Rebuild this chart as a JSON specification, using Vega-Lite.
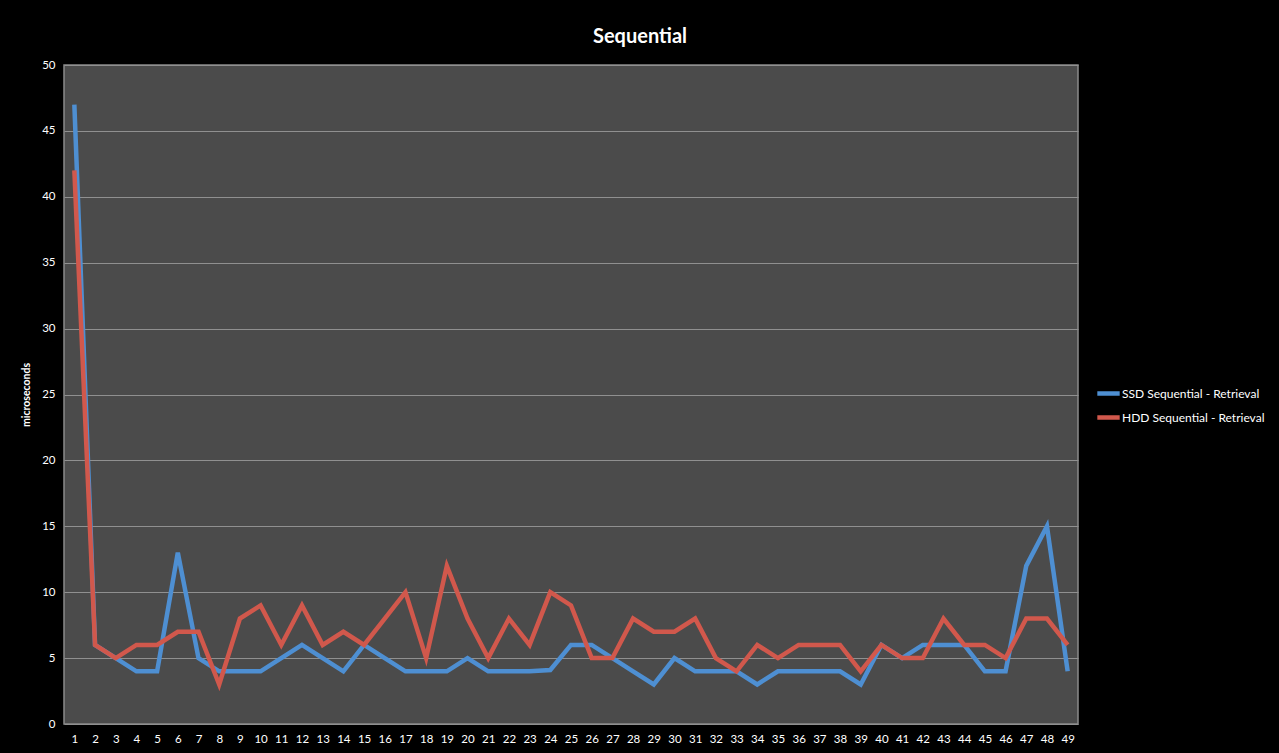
{
  "$schema": "https://vega.github.io/schema/vega-lite/v6.json",
  "autosize": {"type": "none"},
  "width": 1014,
  "height": 659,
  "padding": {"left": 64, "top": 65, "right": 201, "bottom": 29},
  "background": "#000000",
  "title": {
    "text": "Sequential",
    "color": "white",
    "font": "Lato",
    "fontSize": 20,
    "fontWeight": "bold",
    "anchor": "middle",
    "dx": 69,
    "offset": 12
  },
  "config": {
    "view": {"stroke": "#8a8a8a", "strokeWidth": 1.5, "fill": "#4b4b4b"},
    "axis": {
      "labelColor": "white",
      "labelFont": "Lato",
      "labelFontSize": 11.5,
      "titleColor": "white",
      "titleFont": "Lato",
      "domain": false,
      "ticks": false
    },
    "legend": {
      "labelColor": "white",
      "labelFont": "Lato",
      "labelFontSize": 12
    }
  },
  "data": {
    "values": [
      {"n": 1, "series": "SSD Sequential - Retrieval", "value": 47},
      {"n": 2, "series": "SSD Sequential - Retrieval", "value": 6},
      {"n": 3, "series": "SSD Sequential - Retrieval", "value": 5},
      {"n": 4, "series": "SSD Sequential - Retrieval", "value": 4},
      {"n": 5, "series": "SSD Sequential - Retrieval", "value": 4},
      {"n": 6, "series": "SSD Sequential - Retrieval", "value": 13},
      {"n": 7, "series": "SSD Sequential - Retrieval", "value": 5},
      {"n": 8, "series": "SSD Sequential - Retrieval", "value": 4},
      {"n": 9, "series": "SSD Sequential - Retrieval", "value": 4},
      {"n": 10, "series": "SSD Sequential - Retrieval", "value": 4},
      {"n": 11, "series": "SSD Sequential - Retrieval", "value": 5},
      {"n": 12, "series": "SSD Sequential - Retrieval", "value": 6},
      {"n": 13, "series": "SSD Sequential - Retrieval", "value": 5},
      {"n": 14, "series": "SSD Sequential - Retrieval", "value": 4},
      {"n": 15, "series": "SSD Sequential - Retrieval", "value": 6},
      {"n": 16, "series": "SSD Sequential - Retrieval", "value": 5},
      {"n": 17, "series": "SSD Sequential - Retrieval", "value": 4},
      {"n": 18, "series": "SSD Sequential - Retrieval", "value": 4},
      {"n": 19, "series": "SSD Sequential - Retrieval", "value": 4},
      {"n": 20, "series": "SSD Sequential - Retrieval", "value": 5},
      {"n": 21, "series": "SSD Sequential - Retrieval", "value": 4},
      {"n": 22, "series": "SSD Sequential - Retrieval", "value": 4},
      {"n": 23, "series": "SSD Sequential - Retrieval", "value": 4},
      {"n": 24, "series": "SSD Sequential - Retrieval", "value": 4.1},
      {"n": 25, "series": "SSD Sequential - Retrieval", "value": 6},
      {"n": 26, "series": "SSD Sequential - Retrieval", "value": 6},
      {"n": 27, "series": "SSD Sequential - Retrieval", "value": 5},
      {"n": 28, "series": "SSD Sequential - Retrieval", "value": 4},
      {"n": 29, "series": "SSD Sequential - Retrieval", "value": 3},
      {"n": 30, "series": "SSD Sequential - Retrieval", "value": 5},
      {"n": 31, "series": "SSD Sequential - Retrieval", "value": 4},
      {"n": 32, "series": "SSD Sequential - Retrieval", "value": 4},
      {"n": 33, "series": "SSD Sequential - Retrieval", "value": 4},
      {"n": 34, "series": "SSD Sequential - Retrieval", "value": 3},
      {"n": 35, "series": "SSD Sequential - Retrieval", "value": 4},
      {"n": 36, "series": "SSD Sequential - Retrieval", "value": 4},
      {"n": 37, "series": "SSD Sequential - Retrieval", "value": 4},
      {"n": 38, "series": "SSD Sequential - Retrieval", "value": 4},
      {"n": 39, "series": "SSD Sequential - Retrieval", "value": 3},
      {"n": 40, "series": "SSD Sequential - Retrieval", "value": 6},
      {"n": 41, "series": "SSD Sequential - Retrieval", "value": 5},
      {"n": 42, "series": "SSD Sequential - Retrieval", "value": 6},
      {"n": 43, "series": "SSD Sequential - Retrieval", "value": 6},
      {"n": 44, "series": "SSD Sequential - Retrieval", "value": 6},
      {"n": 45, "series": "SSD Sequential - Retrieval", "value": 4},
      {"n": 46, "series": "SSD Sequential - Retrieval", "value": 4},
      {"n": 47, "series": "SSD Sequential - Retrieval", "value": 12},
      {"n": 48, "series": "SSD Sequential - Retrieval", "value": 15},
      {"n": 49, "series": "SSD Sequential - Retrieval", "value": 4},
      {"n": 1, "series": "HDD Sequential - Retrieval", "value": 42},
      {"n": 2, "series": "HDD Sequential - Retrieval", "value": 6},
      {"n": 3, "series": "HDD Sequential - Retrieval", "value": 5},
      {"n": 4, "series": "HDD Sequential - Retrieval", "value": 6},
      {"n": 5, "series": "HDD Sequential - Retrieval", "value": 6},
      {"n": 6, "series": "HDD Sequential - Retrieval", "value": 7},
      {"n": 7, "series": "HDD Sequential - Retrieval", "value": 7},
      {"n": 8, "series": "HDD Sequential - Retrieval", "value": 3},
      {"n": 9, "series": "HDD Sequential - Retrieval", "value": 8},
      {"n": 10, "series": "HDD Sequential - Retrieval", "value": 9},
      {"n": 11, "series": "HDD Sequential - Retrieval", "value": 6},
      {"n": 12, "series": "HDD Sequential - Retrieval", "value": 9},
      {"n": 13, "series": "HDD Sequential - Retrieval", "value": 6},
      {"n": 14, "series": "HDD Sequential - Retrieval", "value": 7},
      {"n": 15, "series": "HDD Sequential - Retrieval", "value": 6},
      {"n": 16, "series": "HDD Sequential - Retrieval", "value": 8},
      {"n": 17, "series": "HDD Sequential - Retrieval", "value": 10},
      {"n": 18, "series": "HDD Sequential - Retrieval", "value": 5},
      {"n": 19, "series": "HDD Sequential - Retrieval", "value": 12},
      {"n": 20, "series": "HDD Sequential - Retrieval", "value": 8},
      {"n": 21, "series": "HDD Sequential - Retrieval", "value": 5},
      {"n": 22, "series": "HDD Sequential - Retrieval", "value": 8},
      {"n": 23, "series": "HDD Sequential - Retrieval", "value": 6},
      {"n": 24, "series": "HDD Sequential - Retrieval", "value": 10},
      {"n": 25, "series": "HDD Sequential - Retrieval", "value": 9},
      {"n": 26, "series": "HDD Sequential - Retrieval", "value": 5},
      {"n": 27, "series": "HDD Sequential - Retrieval", "value": 5},
      {"n": 28, "series": "HDD Sequential - Retrieval", "value": 8},
      {"n": 29, "series": "HDD Sequential - Retrieval", "value": 7},
      {"n": 30, "series": "HDD Sequential - Retrieval", "value": 7},
      {"n": 31, "series": "HDD Sequential - Retrieval", "value": 8},
      {"n": 32, "series": "HDD Sequential - Retrieval", "value": 5},
      {"n": 33, "series": "HDD Sequential - Retrieval", "value": 4},
      {"n": 34, "series": "HDD Sequential - Retrieval", "value": 6},
      {"n": 35, "series": "HDD Sequential - Retrieval", "value": 5},
      {"n": 36, "series": "HDD Sequential - Retrieval", "value": 6},
      {"n": 37, "series": "HDD Sequential - Retrieval", "value": 6},
      {"n": 38, "series": "HDD Sequential - Retrieval", "value": 6},
      {"n": 39, "series": "HDD Sequential - Retrieval", "value": 4},
      {"n": 40, "series": "HDD Sequential - Retrieval", "value": 6},
      {"n": 41, "series": "HDD Sequential - Retrieval", "value": 5},
      {"n": 42, "series": "HDD Sequential - Retrieval", "value": 5},
      {"n": 43, "series": "HDD Sequential - Retrieval", "value": 8},
      {"n": 44, "series": "HDD Sequential - Retrieval", "value": 6},
      {"n": 45, "series": "HDD Sequential - Retrieval", "value": 6},
      {"n": 46, "series": "HDD Sequential - Retrieval", "value": 5},
      {"n": 47, "series": "HDD Sequential - Retrieval", "value": 8},
      {"n": 48, "series": "HDD Sequential - Retrieval", "value": 8},
      {"n": 49, "series": "HDD Sequential - Retrieval", "value": 6}
    ]
  },
  "mark": {"type": "line", "strokeWidth": 4.5, "strokeJoin": "miter"},
  "encoding": {
    "x": {
      "field": "n",
      "type": "ordinal",
      "scale": {"type": "point", "padding": 0.5},
      "axis": {"title": null, "labelAngle": 0, "labelPadding": 9, "grid": false}
    },
    "y": {
      "field": "value",
      "type": "quantitative",
      "scale": {"domain": [0, 50], "nice": false},
      "axis": {
        "title": "microseconds",
        "titleFontSize": 10.5,
        "titleFontWeight": "bold",
        "titlePadding": 10,
        "values": [0, 5, 10, 15, 20, 25, 30, 35, 40, 45, 50],
        "labelPadding": 9,
        "gridColor": "#909090",
        "gridWidth": 1.2
      }
    },
    "color": {
      "field": "series",
      "type": "nominal",
      "scale": {
        "domain": ["SSD Sequential - Retrieval", "HDD Sequential - Retrieval"],
        "range": ["#4E8FD2", "#D1584C"]
      },
      "legend": {
        "title": null,
        "orient": "none",
        "legendX": 1031,
        "legendY": 315,
        "symbolType": "stroke",
        "symbolStrokeWidth": 4.5,
        "symbolSize": 500,
        "rowPadding": 1,
        "labelOffset": 0
      }
    },
    "order": {"field": "n", "type": "quantitative"}
  }
}
